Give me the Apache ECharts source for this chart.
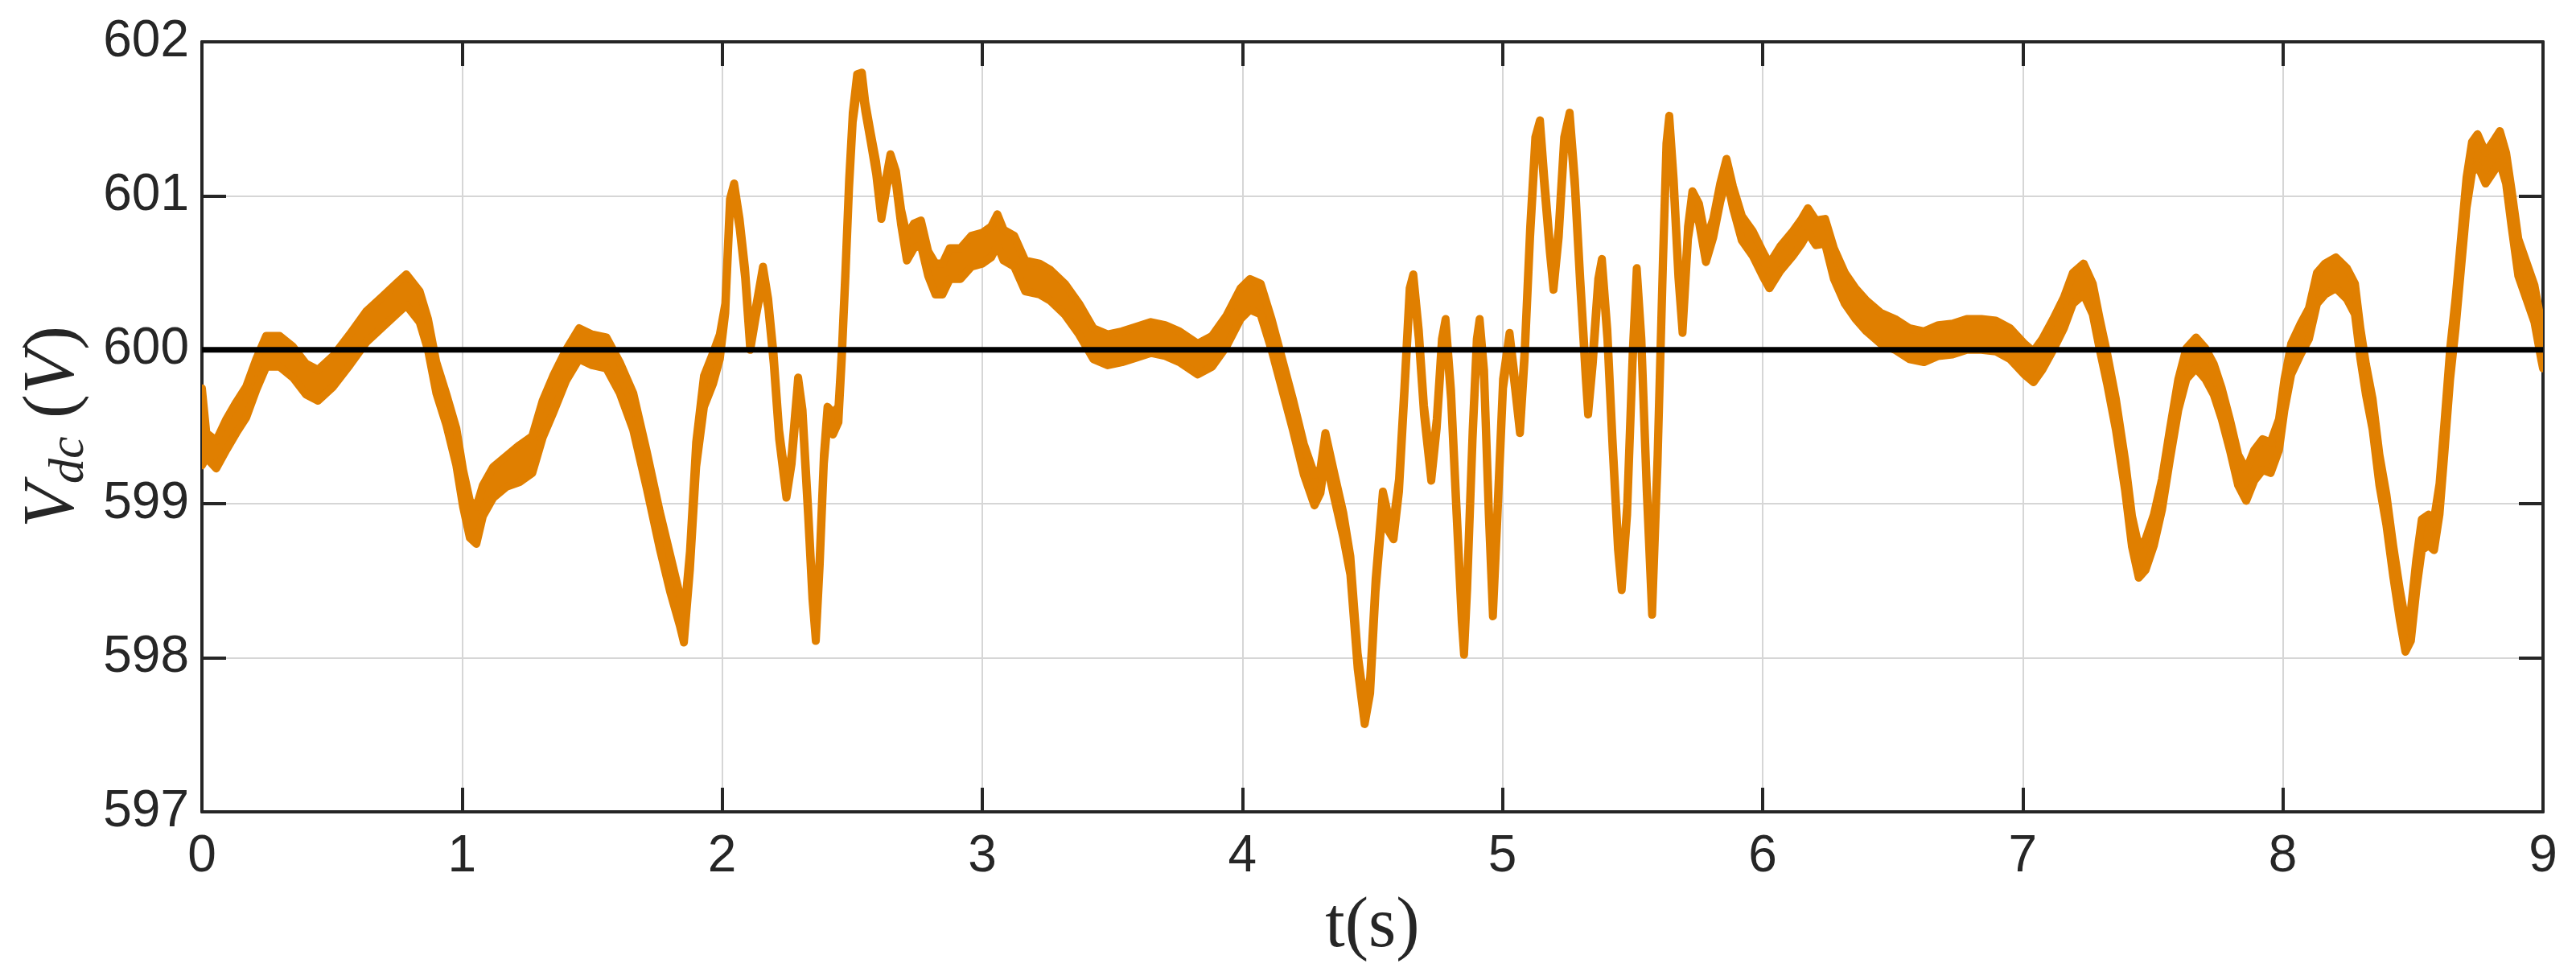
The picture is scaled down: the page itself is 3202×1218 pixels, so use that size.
<!DOCTYPE html>
<html>
<head>
<meta charset="utf-8">
<script src="https://cdn.jsdelivr.net/npm/echarts@6/dist/echarts.min.js"></script>
<style>
html,body{margin:0;padding:0;background:#fff;}
#chart{width:3202px;height:1218px;}
</style>
</head>
<body>
<div id="chart"></div>
<script>
// Time (s)
var T = [
  0.000,0.017,0.055,0.094,0.132,0.170,0.209,0.247,0.299,0.350,
  0.400,0.446,0.504,0.568,0.632,0.696,0.747,0.786,0.837,0.869,
  0.901,0.940,0.978,1.004,1.030,1.055,1.080,1.120,1.170,1.220,
  1.270,1.310,1.350,1.400,1.450,1.500,1.555,1.606,1.658,1.710,
  1.760,1.800,1.837,1.853,1.876,1.900,1.930,1.965,1.991,2.012,
  2.030,2.046,2.067,2.088,2.108,2.129,2.157,2.177,2.198,2.219,
  2.247,2.267,2.292,2.309,2.330,2.347,2.360,2.375,2.391,2.405,
  2.426,2.447,2.460,2.474,2.488,2.502,2.519,2.537,2.550,2.571,
  2.592,2.612,2.633,2.647,2.668,2.688,2.710,2.737,2.764,2.792,
  2.820,2.847,2.875,2.916,2.958,3.000,3.034,3.058,3.082,3.123,
  3.165,3.220,3.261,3.317,3.372,3.427,3.482,3.537,3.593,3.648,
  3.703,3.758,3.828,3.883,3.938,3.993,4.029,4.070,4.112,4.153,
  4.194,4.236,4.277,4.300,4.319,4.353,4.388,4.415,4.443,4.470,
  4.491,4.512,4.540,4.560,4.581,4.602,4.622,4.643,4.657,4.678,
  4.698,4.726,4.747,4.767,4.781,4.802,4.823,4.843,4.852,4.864,
  4.885,4.901,4.912,4.929,4.947,4.963,4.981,5.002,5.027,5.048,
  5.067,5.085,5.106,5.126,5.144,5.161,5.182,5.196,5.216,5.237,
  5.258,5.278,5.299,5.320,5.329,5.347,5.368,5.382,5.403,5.423,
  5.444,5.458,5.479,5.500,5.516,5.534,5.554,5.575,5.596,5.617,
  5.630,5.641,5.658,5.676,5.692,5.713,5.730,5.755,5.782,5.810,
  5.837,5.861,5.886,5.920,5.962,6.003,6.026,6.067,6.116,6.150,
  6.174,6.205,6.240,6.274,6.316,6.357,6.399,6.454,6.509,6.564,
  6.620,6.675,6.730,6.785,6.841,6.896,6.951,7.006,7.041,7.075,
  7.117,7.158,7.193,7.234,7.269,7.296,7.324,7.358,7.393,7.420,
  7.446,7.472,7.504,7.535,7.566,7.598,7.629,7.666,7.702,7.734,
  7.765,7.796,7.828,7.859,7.890,7.922,7.953,7.985,8.006,8.032,
  8.068,8.100,8.131,8.162,8.204,8.246,8.277,8.298,8.319,8.345,
  8.371,8.398,8.424,8.450,8.471,8.492,8.513,8.534,8.560,8.581,
  8.602,8.622,8.643,8.664,8.685,8.706,8.727,8.748,8.779,8.811,
  8.834,8.858,8.879,8.905,8.936,8.967,8.994,9.000
];
// Vdc band centre (V)
var VDC = [
  599.50,599.38,599.32,599.45,599.56,599.66,599.84,599.99,599.99,599.92,
  599.81,599.77,599.86,600.00,600.15,600.25,600.33,600.39,600.28,600.10,
  599.82,599.61,599.37,599.10,598.90,598.86,599.02,599.14,599.21,599.26,
  599.32,599.55,599.71,599.90,600.04,600.00,599.98,599.82,599.60,599.22,
  598.83,598.55,598.31,598.18,598.63,599.32,599.73,599.88,600.02,600.27,
  600.95,601.04,600.82,600.50,600.03,600.24,600.50,600.30,599.94,599.45,
  599.08,599.29,599.78,599.58,598.96,598.41,598.14,598.63,599.29,599.58,
  599.52,599.58,599.97,600.50,601.08,601.51,601.74,601.75,601.58,601.38,
  601.18,600.90,601.10,601.22,601.12,600.86,600.66,600.74,600.76,600.56,
  600.46,600.46,600.56,600.56,600.64,600.66,600.70,600.78,600.68,600.64,
  600.48,600.46,600.42,600.33,600.20,600.04,600.00,600.02,600.05,600.08,
  600.06,600.02,599.94,599.99,600.12,600.30,600.36,600.33,600.10,599.84,
  599.58,599.29,599.09,599.15,599.38,599.12,598.86,598.60,597.98,597.63,
  597.82,598.47,599.03,598.88,598.83,599.12,599.71,600.37,600.46,600.10,
  599.61,599.19,599.52,600.04,600.17,599.71,598.96,598.27,598.05,598.47,
  599.45,600.04,600.17,599.84,598.96,598.30,598.96,599.78,600.08,599.78,
  599.50,599.97,600.76,601.35,601.45,601.08,600.66,600.42,600.76,601.35,
  601.50,601.08,600.43,599.84,599.62,599.94,600.43,600.56,600.10,599.39,
  598.73,598.47,598.96,599.94,600.50,600.04,599.12,598.31,599.29,600.59,
  601.31,601.48,601.08,600.50,600.14,600.76,600.97,600.89,600.64,600.79,
  601.02,601.18,600.99,600.79,600.69,600.55,600.48,600.59,600.69,600.77,
  600.84,600.76,600.77,600.56,600.40,600.30,600.22,600.14,600.10,600.04,
  600.02,600.06,600.07,600.10,600.10,600.09,600.04,599.94,599.89,599.97,
  600.10,600.24,600.40,600.46,600.33,600.10,599.88,599.58,599.19,598.82,
  598.62,598.67,598.83,599.06,599.39,599.71,599.91,599.98,599.91,599.81,
  599.65,599.45,599.22,599.12,599.25,599.32,599.30,599.45,599.71,599.94,
  600.07,600.17,600.40,600.46,600.50,600.43,600.33,600.04,599.81,599.58,
  599.22,598.96,598.63,598.34,598.14,598.21,598.54,598.80,598.83,598.80,
  599.03,599.45,599.91,600.24,600.63,601.02,601.25,601.30,601.18,601.26,
  601.32,601.18,600.92,600.60,600.45,600.30,600.05,600.00
];
// ripple half-amplitude around the centre (V)
var RIPPLE = [
  0.25,0.08,0.09,0.10,0.10,0.10,0.10,0.10,0.10,0.10,
  0.10,0.10,0.10,0.10,0.10,0.10,0.10,0.10,0.10,0.10,
  0.10,0.10,0.12,0.12,0.12,0.12,0.10,0.10,0.10,0.12,
  0.12,0.12,0.12,0.10,0.10,0.10,0.10,0.10,0.12,0.12,
  0.12,0.12,0.10,0.08,0.06,0.08,0.10,0.10,0.08,0.03,
  0.03,0.04,0.03,0.03,0.03,0.03,0.04,0.03,0.03,0.03,
  0.04,0.03,0.04,0.03,0.03,0.03,0.03,0.03,0.03,0.05,
  0.07,0.05,0.03,0.03,0.03,0.03,0.05,0.05,0.03,0.03,
  0.04,0.05,0.04,0.05,0.04,0.05,0.08,0.08,0.08,0.08,
  0.10,0.10,0.10,0.10,0.10,0.10,0.10,0.10,0.10,0.10,
  0.10,0.10,0.10,0.10,0.10,0.10,0.10,0.10,0.10,0.10,
  0.10,0.10,0.10,0.10,0.10,0.10,0.10,0.10,0.10,0.10,
  0.10,0.10,0.10,0.08,0.08,0.08,0.08,0.06,0.05,0.06,
  0.05,0.04,0.05,0.05,0.06,0.04,0.03,0.03,0.03,0.03,
  0.03,0.04,0.03,0.03,0.03,0.03,0.03,0.03,0.03,0.03,
  0.03,0.03,0.03,0.03,0.03,0.03,0.03,0.03,0.03,0.03,
  0.04,0.03,0.03,0.03,0.04,0.03,0.03,0.03,0.03,0.03,
  0.04,0.03,0.03,0.03,0.04,0.03,0.03,0.03,0.03,0.03,
  0.03,0.03,0.03,0.03,0.03,0.03,0.03,0.03,0.03,0.03,
  0.03,0.04,0.03,0.03,0.03,0.04,0.06,0.06,0.07,0.06,
  0.06,0.06,0.07,0.08,0.08,0.08,0.08,0.08,0.08,0.08,
  0.08,0.08,0.08,0.10,0.10,0.10,0.10,0.10,0.10,0.10,
  0.10,0.10,0.10,0.10,0.10,0.10,0.10,0.10,0.10,0.10,
  0.10,0.10,0.10,0.10,0.10,0.10,0.10,0.10,0.10,0.10,
  0.10,0.10,0.10,0.10,0.10,0.10,0.10,0.10,0.10,0.10,
  0.10,0.10,0.10,0.10,0.10,0.10,0.10,0.10,0.10,0.10,
  0.10,0.10,0.10,0.10,0.10,0.10,0.10,0.10,0.10,0.10,
  0.10,0.10,0.10,0.10,0.10,0.10,0.10,0.10,0.10,0.10,
  0.10,0.10,0.10,0.10,0.10,0.10,0.10,0.10,0.10,0.10,
  0.10,0.10,0.12,0.12,0.12,0.12,0.12,0.12
];
// reference voltage
var REF_T = [0, 9];
var REF_V = [600, 600];
// axis ticks
var X_TICKS = [0,1,2,3,4,5,6,7,8,9];
var Y_TICKS = [597,598,599,600,601,602];

var ORANGE = '#e07f00';
var INK = '#262626';

var N = Math.min(T.length, VDC.length, RIPPLE.length);
var refData = REF_T.map(function(t,i){ return [t, REF_V[i]]; });

var chart = echarts.init(document.getElementById('chart'), null, {renderer:'canvas'});

function axisCommon(extra){
  var o = {
    type:'value',
    axisLine:{show:true, onZero:false, lineStyle:{color:INK, width:4}},
    axisTick:{show:true, inside:true, length:30, lineStyle:{color:INK, width:4}},
    splitLine:{show:false}
  };
  for (var k in extra) o[k] = extra[k];
  return o;
}

function renderBand(params, api){
  var pts = [];
  var i;
  for (i = 0; i < N; i++) pts.push(api.coord([T[i], VDC[i] + RIPPLE[i]]));
  for (i = N - 1; i >= 0; i--) pts.push(api.coord([T[i], VDC[i] - RIPPLE[i]]));
  return {
    type:'polygon',
    shape:{points:pts},
    style:{fill:ORANGE, stroke:ORANGE, lineWidth:10, lineJoin:'round'}
  };
}

chart.setOption({
  animation:false,
  backgroundColor:'#ffffff',
  grid:{left:251, right:41, top:52, bottom:209, containLabel:false},
  xAxis:[
    axisCommon({
      position:'bottom', min:X_TICKS[0], max:X_TICKS[X_TICKS.length-1], interval:1,
      axisLabel:{show:true, margin:24, fontSize:64, fontFamily:'Liberation Sans, Arial, sans-serif', color:INK,
        formatter:function(v){ return X_TICKS.indexOf(v) >= 0 ? String(v) : ''; }},
      splitLine:{show:true, lineStyle:{color:'#d6d6d6', width:2}},
      name:'t(s)', nameLocation:'middle', nameGap:100,
      nameTextStyle:{fontFamily:'Liberation Serif, Times New Roman, serif', fontSize:88, color:INK}
    }),
    axisCommon({
      position:'top', min:X_TICKS[0], max:X_TICKS[X_TICKS.length-1], interval:1,
      axisLabel:{show:false}
    })
  ],
  yAxis:[
    axisCommon({
      position:'left', min:Y_TICKS[0], max:Y_TICKS[Y_TICKS.length-1], interval:1,
      axisLabel:{show:true, margin:16, fontSize:64, fontFamily:'Liberation Sans, Arial, sans-serif', color:INK,
        formatter:function(v){ return Y_TICKS.indexOf(v) >= 0 ? String(v) : ''; }},
      splitLine:{show:true, lineStyle:{color:'#d6d6d6', width:2}},
      name:'{v|V}{s|dc}{sp| }{p|(}{v|V}{p|)}', nameLocation:'middle', nameGap:132, nameRotate:90,
      nameTextStyle:{
        color:INK,
        rich:{
          v:{fontFamily:'Liberation Serif, serif', fontStyle:'italic', fontSize:90, color:INK, lineHeight:100, verticalAlign:'middle'},
          s:{fontFamily:'Liberation Serif, serif', fontStyle:'italic', fontSize:62, color:INK, lineHeight:44, verticalAlign:'bottom'},
          sp:{fontFamily:'Liberation Serif, serif', fontSize:90, color:INK, lineHeight:100, verticalAlign:'middle'},
          p:{fontFamily:'Liberation Serif, serif', fontSize:90, color:INK, lineHeight:100, verticalAlign:'middle'}
        }
      }
    }),
    axisCommon({
      position:'right', min:Y_TICKS[0], max:Y_TICKS[Y_TICKS.length-1], interval:1,
      axisLabel:{show:false}
    })
  ],
  series:[
    {
      name:'Vdc', type:'custom', xAxisIndex:0, yAxisIndex:0,
      renderItem:renderBand, data:[[T[0], VDC[0]]], clip:true, z:3, silent:true
    },
    {
      name:'ref', type:'line', xAxisIndex:0, yAxisIndex:0,
      data:refData, symbol:'none', z:4,
      lineStyle:{color:'#000000', width:7}
    }
  ]
});
</script>
</body>
</html>
